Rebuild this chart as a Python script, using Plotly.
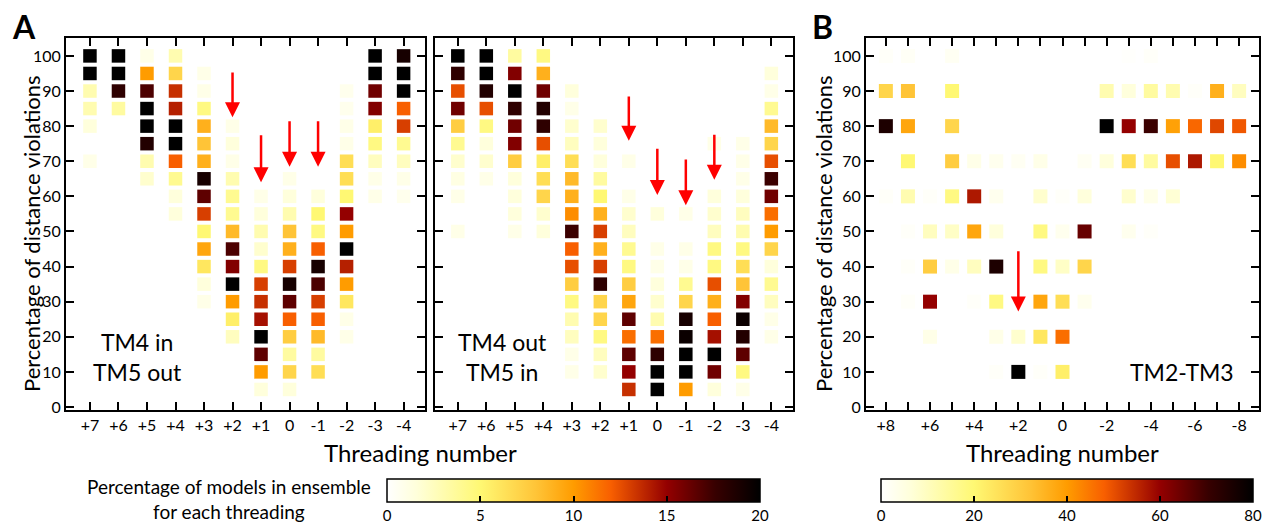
import plotly.graph_objects as go

# ---------------- data ----------------
y_levels_A = [100, 95, 90, 85, 80, 75, 70, 65, 60, 55, 50, 45, 40, 35, 30, 25, 20, 15, 10, 5]
threading_A = ["+7", "+6", "+5", "+4", "+3", "+2", "+1", "0", "-1", "-2", "-3", "-4"]

# Percentage of models (per threading column, rows follow y_levels_A); 0 = no cell
tm4in_tm5out = [
    [20, 20, 3, 3, 1.5, 0, 1, 0, 0, 0, 0, 0, 0, 0, 0, 0, 0, 0, 0, 0],             # +7
    [20, 20, 18, 3.5, 0, 0, 0, 0, 0, 0, 0, 0, 0, 0, 0, 0, 0, 0, 0, 0],            # +6
    [1, 10, 17, 20, 20, 18.5, 3, 2, 0, 0, 0, 0, 0, 0, 0, 0, 0, 0, 0, 0],          # +5
    [3, 7, 13.5, 14, 20, 20, 12, 4, 1.5, 1.5, 0, 0, 0, 0, 0, 0, 0, 0, 0, 0],     # +4
    [0, 1, 1, 4.5, 9, 8, 9, 19, 16.5, 13, 5, 9.5, 6, 1.5, 1, 0, 0, 0, 0, 0],     # +3
    [0, 0, 0, 0, 1, 1.5, 1, 3, 4, 4, 8.5, 17, 15.5, 20, 10, 5.5, 2.5, 0, 0, 0],  # +2
    [0, 0, 0, 0, 0, 0, 0, 0, 1, 1.5, 3, 2, 4.5, 13, 13.5, 14.5, 20, 16.5, 10, 1.5],  # +1
    [0, 0, 0, 0, 0, 0, 0, 1, 1.5, 3, 8, 9, 13, 19, 16.5, 12, 7.5, 3.5, 7, 1.5],  # 0
    [0, 0, 0, 0, 0, 0, 0, 0, 1.5, 5, 4.5, 12, 19, 17, 13, 12, 8.5, 3.5, 6.5, 0], # -1
    [0, 0, 0.8, 0.8, 1, 1, 6.5, 6.5, 5, 15, 10, 20, 14, 10, 6, 1, 1, 0, 0, 0],   # -2
    [20, 20, 16, 15.5, 5.5, 4.5, 2.5, 1, 1, 0, 0, 0, 0, 0, 0, 0, 0, 0, 0, 0],    # -3
    [19, 20, 20, 12, 13, 4, 2.5, 1, 0.8, 0, 0, 0, 0, 0, 0, 0, 0, 0, 0, 0],       # -4
]

tm4out_tm5in = [
    [20, 18, 12.5, 16, 7.5, 4, 2, 1.2, 1, 0, 1, 0, 0, 0, 0, 0, 0, 0, 0, 0],      # +7
    [20, 20, 18.5, 12.5, 4.5, 1.5, 2, 1, 0, 0, 0, 0, 0, 0, 0, 0, 0, 0, 0, 0],    # +6
    [3.5, 15.5, 20, 18, 16, 15.5, 7.5, 1.5, 1.5, 1.5, 1, 0, 0, 0, 0, 0, 0, 0, 0, 0],  # +5
    [4.5, 9, 16, 18.5, 18, 12.5, 5.5, 6.5, 7, 2, 1.5, 0, 0, 0, 0, 0, 0, 0, 0, 0],     # +4
    [0, 0, 1.5, 1, 2, 2.5, 6.5, 8.5, 9, 10.5, 17.5, 12, 12.5, 7.5, 4.5, 3, 2.5, 1, 1, 0],  # +3
    [0, 0, 0, 0, 2, 1.5, 1.5, 3.5, 5, 9, 13, 9, 13, 18, 7, 7, 4.5, 2.5, 2, 0],   # +2
    [0, 0, 0, 0, 0, 0, 1, 0, 1, 2, 2.5, 4, 4.5, 7.5, 9.5, 16.5, 11.5, 16.5, 15, 13.5],  # +1
    [0, 0, 0, 0, 0, 0, 0, 0, 0, 1.5, 0, 1, 1, 1.5, 2, 3, 11.5, 18, 20, 20],      # 0
    [0, 0, 0, 0, 0, 0, 0, 0, 0, 1, 0, 1, 1, 4, 7, 19, 19.5, 20, 20, 10],         # -1
    [0, 0, 0, 0, 0, 1, 0, 0, 1.5, 2, 2.5, 4.5, 4.5, 12.5, 9, 12, 14.5, 20, 16, 1.5],  # -2
    [0, 0, 0, 0, 0, 1, 1, 1, 1.5, 2.5, 3, 4.5, 6.5, 8, 15.5, 19.5, 18.5, 16.5, 4.5, 1],  # -3
    [0, 1.5, 1, 4, 8.5, 7, 12.5, 17.5, 16, 11.5, 10, 7, 1.5, 4, 2.5, 1, 1, 0, 0, 0],  # -4
]

y_levels_B = [100, 90, 80, 70, 60, 50, 40, 30, 20, 10]
threading_B = ["+8", "+7", "+6", "+5", "+4", "+3", "+2", "+1", "0",
               "-1", "-2", "-3", "-4", "-5", "-6", "-7", "-8"]
tick_labels_B = ["+8", "", "+6", "", "+4", "", "+2", "", "0", "", "-2", "", "-4", "", "-6", "", "-8"]

# rows follow y_levels_B, columns follow threading_B
tm2_tm3 = [
    [1, 1.5, 0, 2, 0, 0, 0, 0, 0, 0, 0, 0.5, 1, 0, 0, 0, 0],          # 100
    [28, 32, 0, 20, 0, 0, 0, 0, 0, 0, 12, 6, 14, 12, 1, 36, 10],      # 90
    [75, 38, 0, 28, 0, 0, 0, 0, 0, 0, 80, 60, 70, 39, 47, 51, 49],    # 80
    [0, 20, 0, 30, 4, 3, 2, 4, 0, 2, 6, 26, 14, 50, 57, 20, 42],      # 70
    [1, 12, 1, 18, 57, 3, 0, 8, 1, 6, 0, 8, 4, 7, 0, 0, 0],           # 60
    [0, 1, 10, 9, 38, 6, 0, 18, 3, 65, 0, 3, 1, 0, 0, 0, 0],          # 50
    [0, 1, 30, 4, 10, 75, 0, 18, 9, 28, 0, 0, 0, 0, 0, 0, 0],         # 40
    [0, 1, 60, 0, 1, 18, 0, 38, 26, 3, 0, 0, 0, 0, 0, 0, 0],          # 30
    [0, 0, 4, 0, 0, 4, 8, 24, 46, 0, 0, 0, 0, 0, 0, 0, 0],            # 20
    [0, 0, 0, 0, 0, 1, 80, 1, 22, 0, 0, 0, 0, 0, 0, 0, 0],            # 10
]

# red arrows: (threading label, tail value, head value)
arrows_A_left = [("+2", 95.7, 82.5), ("+1", 77.8, 64.0), ("0", 81.8, 68.4), ("-1", 81.8, 68.4)]
arrows_A_right = [("+1", 88.9, 75.8), ("0", 74.0, 60.4), ("-1", 70.9, 57.5), ("-2", 78.0, 64.7)]
arrows_B = [("+2", 44.8, 27.2)]

# ---------------- style ----------------
W, H = 1265, 523
FONT = "Lato"
hot = [[0.0, "rgb(255,255,255)"], [0.08, "rgb(255,255,218)"], [0.25, "rgb(255,248,115)"],
       [0.4, "rgb(255,196,55)"], [0.5, "rgb(255,156,0)"], [0.6, "rgb(248,95,0)"],
       [0.75, "rgb(148,0,0)"], [0.88, "rgb(55,0,0)"], [1.0, "rgb(0,0,0)"]]


def px_x(p):
    return p / W


def px_y(p):
    return 1 - p / H


def cells_from_cols(cols, ylev):
    xs, ys, cs = [], [], []
    for i, col in enumerate(cols):
        for j, v in enumerate(col):
            if v > 0:
                xs.append(i); ys.append(ylev[j]); cs.append(v)
    return xs, ys, cs


def cells_from_rows(rows, ylev):
    xs, ys, cs = [], [], []
    for j, row in enumerate(rows):
        for i, v in enumerate(row):
            if v > 0:
                xs.append(i); ys.append(ylev[j]); cs.append(v)
    return xs, ys, cs


def cbar(x_left, length, tickvals):
    return dict(orientation="h", x=px_x(x_left), xanchor="left", y=px_y(479), yanchor="top",
                len=length / W, lenmode="fraction", thickness=23,
                xpad=0, ypad=0, outlinewidth=1.5, outlinecolor="black",
                ticks="inside", ticklen=6, tickwidth=1.5, tickcolor="black",
                tickvals=tickvals, tickfont=dict(family=FONT, size=15, color="black"))


fig = go.Figure()

xa, ya, ca = cells_from_cols(tm4in_tm5out, y_levels_A)
fig.add_trace(go.Scatter(
    x=xa, y=ya, mode="markers", xaxis="x", yaxis="y", showlegend=False, hoverinfo="skip",
    marker=dict(symbol="square", size=13.5, color=ca, colorscale=hot, cmin=0, cmax=20,
                line=dict(width=0), showscale=True, colorbar=cbar(387, 373, [0, 5, 10, 15, 20]))))

xb, yb, cb = cells_from_cols(tm4out_tm5in, y_levels_A)
fig.add_trace(go.Scatter(
    x=xb, y=yb, mode="markers", xaxis="x2", yaxis="y2", showlegend=False, hoverinfo="skip",
    marker=dict(symbol="square", size=13.5, color=cb, colorscale=hot, cmin=0, cmax=20,
                line=dict(width=0), showscale=False)))

xc, yc, cc = cells_from_rows(tm2_tm3, y_levels_B)
fig.add_trace(go.Scatter(
    x=xc, y=yc, mode="markers", xaxis="x3", yaxis="y3", showlegend=False, hoverinfo="skip",
    marker=dict(symbol="square", size=14, color=cc, colorscale=hot, cmin=0, cmax=80,
                line=dict(width=0), showscale=True, colorbar=cbar(881, 372, [0, 20, 40, 60, 80]))))

axis_common = dict(showgrid=False, zeroline=False, showline=True, linecolor="black", linewidth=2,
                   mirror="ticks", ticks="inside", ticklen=8, tickwidth=2, tickcolor="black",
                   tickfont=dict(family=FONT, size=16, color="black"))

ydom = [px_y(410), px_y(38)]
yrange = [-0.85, 105.1]

fig.update_layout(
    width=W, height=H, margin=dict(l=0, r=0, t=0, b=0, autoexpand=False),
    paper_bgcolor="white", plot_bgcolor="white",
    font=dict(family=FONT, color="black"),
    xaxis=dict(domain=[px_x(66), px_x(425)], range=[-0.84, 11.75], anchor="y",
               tickvals=list(range(len(threading_A))), ticktext=threading_A, **axis_common),
    yaxis=dict(domain=ydom, range=yrange, anchor="x", tickvals=list(range(0, 101, 10)), **axis_common),
    xaxis2=dict(domain=[px_x(435), px_x(793)], range=[-0.8, 11.76], anchor="y2",
                tickvals=list(range(len(threading_A))), ticktext=threading_A, **axis_common),
    yaxis2=dict(domain=ydom, range=yrange, anchor="x2", tickvals=list(range(0, 101, 10)),
                showticklabels=False, **axis_common),
    xaxis3=dict(domain=[px_x(866), px_x(1259)], range=[-0.9, 16.9], anchor="y3",
                tickvals=list(range(len(threading_B))), ticktext=tick_labels_B, **axis_common),
    yaxis3=dict(domain=ydom, range=yrange, anchor="x3", tickvals=list(range(0, 101, 10)), **axis_common),
)

ann = []


def add_arrows(lst, labels, xr, yr):
    for lab, tail, head in lst:
        i = labels.index(lab)
        ann.append(dict(x=i, y=head, ax=i, ay=tail, xref=xr, yref=yr, axref=xr, ayref=yr,
                        text="", showarrow=True, arrowhead=2, arrowsize=1.2, arrowwidth=2.5,
                        arrowcolor="red", standoff=0, startstandoff=0))


add_arrows(arrows_A_left, threading_A, "x", "y")
add_arrows(arrows_A_right, threading_A, "x2", "y2")
add_arrows(arrows_B, threading_B, "x3", "y3")


def text(x, y, s, size, **kw):
    ann.append(dict(x=px_x(x), y=px_y(y), xref="paper", yref="paper", text=s, showarrow=False,
                    font=dict(family=FONT, size=size, color="black"), xanchor="center",
                    yanchor="middle", **kw))


text(137, 357, "TM4 in<br>TM5 out", 23)
text(502, 357, "TM4 out<br>TM5 in", 23)
text(1182, 372, "TM2-TM3", 23)
text(420, 452, "Threading number", 24)
text(1062, 452, "Threading number", 24)
text(31, 234, "Percentage of distance violations", 22, textangle=-90)
text(823, 234, "Percentage of distance violations", 22, textangle=-90)
text(229, 499, "Percentage of models in ensemble<br>for each threading", 19)
text(24, 26, "<b>A</b>", 32)
text(822, 26, "<b>B</b>", 32)

fig.update_layout(annotations=ann)
fig.write_html("out.html", config={"displayModeBar": False},
               post_script="document.body.style.margin='0';document.body.style.overflow='hidden';")
